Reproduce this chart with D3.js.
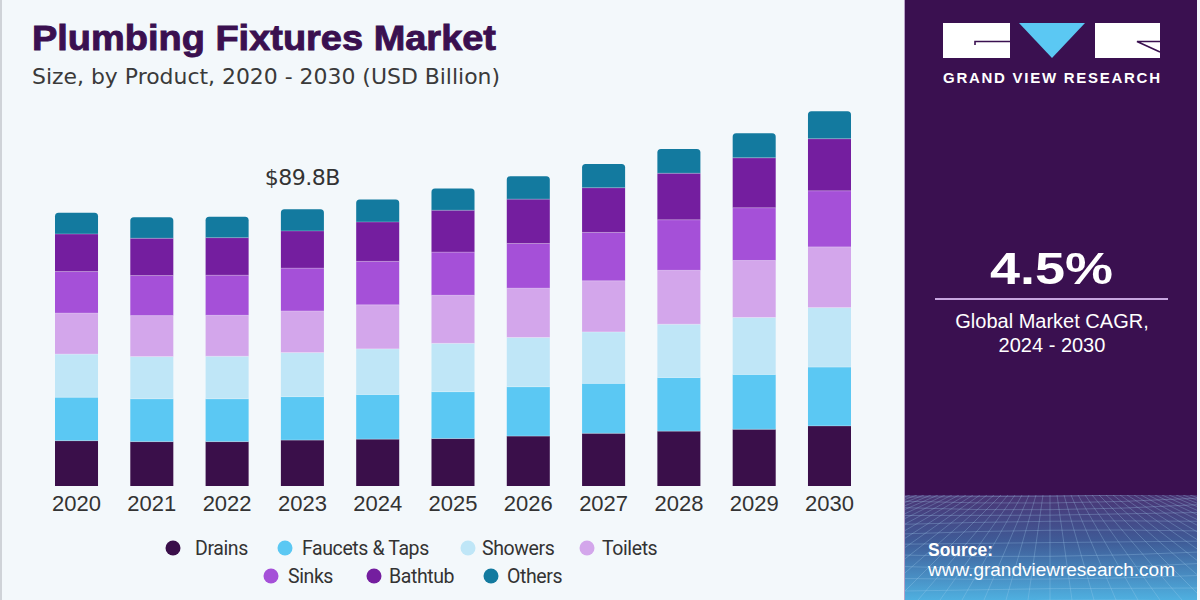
<!DOCTYPE html>
<html>
<head>
<meta charset="utf-8">
<script src="https://cdn.jsdelivr.net/npm/d3@7"></script>
<style>
  html, body { margin: 0; padding: 0; background: #f3f8fb; }
  svg { display: block; }
</style>
</head>
<body>
<svg id="chart" width="1200" height="600"></svg>
<script>
// ---------- DATA ----------
const years = ["2020","2021","2022","2023","2024","2025","2026","2027","2028","2029","2030"];
const seriesNames = ["Drains","Faucets & Taps","Showers","Toilets","Sinks","Bathtub","Others"];
const drains   = [14.7, 14.4, 14.4, 14.9, 15.2, 15.4, 16.2, 17.1, 17.8, 18.4, 19.5];
const faucets  = [14.1, 13.9, 13.9, 14.1, 14.5, 15.2, 16.0, 16.2, 17.4, 17.8, 19.1];
const showers  = [14.0, 13.7, 13.8, 14.3, 14.8, 15.7, 16.0, 16.7, 17.3, 18.5, 19.3];
const toilets  = [13.3, 13.3, 13.3, 13.5, 14.3, 15.6, 16.0, 16.6, 17.5, 18.5, 19.7];
const sinks    = [13.5, 13.0, 13.0, 13.9, 14.1, 14.0, 14.5, 15.7, 16.4, 17.1, 18.2];
const bathtub  = [12.2, 12.1, 12.2, 12.1, 12.8, 13.6, 14.4, 14.5, 15.1, 16.2, 16.9];
const others   = [6.9, 6.8, 6.8, 7.0, 7.3, 7.1, 7.4, 7.7, 7.9, 8.0, 8.9];
const annotationYear = "2023";
const annotationText = "$89.8B";
const cagrValue = "4.5%";
const cagrLabel1 = "Global Market CAGR,";
const cagrLabel2 = "2024 - 2030";

const colors = ["#3a0f4a", "#5bc8f3", "#bfe6f7", "#d3a6eb", "#a550d8", "#741e9f", "#137a9f"];

// ---------- BUILD ----------
const seriesArrays = [drains, faucets, showers, toilets, sinks, bathtub, others];
const table = years.map((y, i) => {
  const row = { year: y };
  seriesNames.forEach((s, k) => row[s] = seriesArrays[k][i]);
  return row;
});
const stacked = d3.stack().keys(seriesNames)(table);

const svg = d3.select("#chart");
const FONT = "'Liberation Sans', Arial, sans-serif";
const WIDE = "'DejaVu Sans', Verdana, sans-serif";

// background
svg.append("rect").attr("x", 0).attr("y", 0).attr("width", 1200).attr("height", 600).attr("fill", "#f3f8fb");
svg.append("rect").attr("x", 0).attr("y", 0).attr("width", 2).attr("height", 600).attr("fill", "#cfd3d8");

// scales
const x = d3.scaleBand().domain(years).range([55, 851]).paddingInner(0.4286).paddingOuter(0);
const y = d3.scaleLinear().domain([0, 130]).range([486, 486 - 130 * 3.081]);
const color = d3.scaleOrdinal().domain(seriesNames).range(colors);

// title
svg.append("text").attr("x", 32).attr("y", 50)
  .attr("font-family", FONT).attr("font-weight", 900).attr("font-size", 35)
  .attr("fill", "#3a1050").attr("stroke", "#3a1050").attr("stroke-width", 0.9)
  .attr("textLength", 464).attr("lengthAdjust", "spacingAndGlyphs")
  .text("Plumbing Fixtures Market");
svg.append("text").attr("x", 32).attr("y", 84)
  .attr("font-family", WIDE).attr("font-size", 20.5).attr("fill", "#3a3a3a")
  .attr("textLength", 468).attr("lengthAdjust", "spacingAndGlyphs")
  .text("Size, by Product, 2020 - 2030 (USD Billion)");

// bars
const g = svg.append("g");
const topIdx = seriesNames.length - 1;
function roundedTop(x0, y0, w, h, r) {
  return `M${x0},${y0 + h} L${x0},${y0 + r} Q${x0},${y0} ${x0 + r},${y0} L${x0 + w - r},${y0} Q${x0 + w},${y0} ${x0 + w},${y0 + r} L${x0 + w},${y0 + h} Z`;
}
stacked.forEach((layer, li) => {
  const lg = g.append("g").attr("fill", color(layer.key));
  if (li === topIdx) {
    lg.selectAll("path").data(layer).join("path")
      .attr("d", d => roundedTop(x(d.data.year), y(d[1]), x.bandwidth(), y(d[0]) - y(d[1]), 3.5));
  } else {
    lg.selectAll("rect").data(layer).join("rect")
      .attr("x", d => x(d.data.year))
      .attr("y", d => y(d[1]))
      .attr("width", x.bandwidth())
      .attr("height", d => y(d[0]) - y(d[1]));
  }
});
// thin separators between segments
stacked.slice(0, topIdx).forEach(layer => {
  g.append("g").selectAll("line").data(layer).join("line")
    .attr("x1", d => x(d.data.year)).attr("x2", d => x(d.data.year) + x.bandwidth())
    .attr("y1", d => y(d[1])).attr("y2", d => y(d[1]))
    .attr("stroke", "#ffffff").attr("stroke-opacity", 0.35).attr("stroke-width", 0.8);
});

// x axis labels
const xAxis = d3.axisBottom(x).tickSize(0).tickPadding(0);
const ax = svg.append("g").attr("transform", "translate(0,492)").call(xAxis);
ax.select(".domain").remove();
ax.selectAll("text").attr("font-family", FONT).attr("font-size", 22).attr("fill", "#333")
  .attr("dy", "0").attr("y", 19);

// annotation
const annTotal = d3.sum(seriesArrays, a => a[years.indexOf(annotationYear)]);
svg.append("text")
  .attr("x", x(annotationYear) + x.bandwidth() / 2)
  .attr("y", y(annTotal) - 24)
  .attr("text-anchor", "middle")
  .attr("font-family", WIDE).attr("font-size", 22).attr("fill", "#333")
  .attr("letter-spacing", -0.5)
  .text(annotationText);

// legend
const legendPos = [
  { cx: 173, cy: 548, tx: 195 },
  { cx: 285, cy: 548, tx: 302 },
  { cx: 468, cy: 548, tx: 482 },
  { cx: 587, cy: 548, tx: 602 },
  { cx: 271, cy: 576, tx: 288 },
  { cx: 374, cy: 576, tx: 389 },
  { cx: 491, cy: 576, tx: 507 }
];
const lgd = svg.append("g");
seriesNames.forEach((s, i) => {
  const p = legendPos[i];
  lgd.append("circle").attr("cx", p.cx).attr("cy", p.cy).attr("r", 7.5).attr("fill", color(s));
  lgd.append("text").attr("x", p.tx).attr("y", p.cy + 7)
    .attr("font-family", "Roboto, sans-serif").attr("font-size", 19.5).attr("fill", "#333")
    .attr("letter-spacing", -0.4)
    .text(s);
});

// ---------- RIGHT PANEL ----------
const defs = svg.append("defs");
const grad = defs.append("linearGradient").attr("id", "btm").attr("x1", 0).attr("y1", 0).attr("x2", 0).attr("y2", 1);
grad.append("stop").attr("offset", "0%").attr("stop-color", "#4a3474");
grad.append("stop").attr("offset", "45%").attr("stop-color", "#3f5c98");
grad.append("stop").attr("offset", "100%").attr("stop-color", "#4fb0e0");
const clip = defs.append("clipPath").attr("id", "meshclip");
clip.append("rect").attr("x", 905).attr("y", 495).attr("width", 292).attr("height", 105);

svg.append("rect").attr("x", 904).attr("y", 0).attr("width", 1.5).attr("height", 600).attr("fill", "#b9a3c9");
svg.append("rect").attr("x", 905).attr("y", 0).attr("width", 292).attr("height", 600).attr("fill", "#3a1050");
svg.append("rect").attr("x", 905).attr("y", 495).attr("width", 292).attr("height", 105).attr("fill", "url(#btm)");

// mesh decoration
const mesh = svg.append("g").attr("clip-path", "url(#meshclip)")
  .attr("stroke", "#a9d4f2").attr("stroke-opacity", 0.35).attr("stroke-width", 0.8).attr("fill", "none");
d3.range(0, 14).forEach(k => {
  const yy = 497 + Math.pow(k, 1.35) * 4.2;
  mesh.append("path").attr("d", `M905,${yy} Q1050,${yy + 6 * Math.sin(k)} 1197,${yy - 3}`);
});
d3.range(-20, 21).forEach(k => {
  mesh.append("line").attr("x1", 1050 + k * 7).attr("y1", 495).attr("x2", 1050 + k * 22).attr("y2", 600);
});

// logo
const logo = svg.append("g");
logo.append("rect").attr("x", 943).attr("y", 23).attr("width", 67).attr("height", 35).attr("fill", "#ffffff");
logo.append("path").attr("d", "M975,45 L975,41.5 L1010,41.5").attr("stroke", "#3a1050").attr("stroke-width", 1.6).attr("fill", "none");
logo.append("path").attr("d", "M1019,23 L1085,23 L1052,58 Z").attr("fill", "#5bc8f3");
logo.append("rect").attr("x", 1095).attr("y", 23).attr("width", 65).attr("height", 35).attr("fill", "#ffffff");
logo.append("path").attr("d", "M1160,41.5 L1137,41.5 L1160,52").attr("stroke", "#3a1050").attr("stroke-width", 1.6).attr("fill", "none");
logo.append("text").attr("x", 943).attr("y", 83)
  .attr("font-family", FONT).attr("font-weight", 700).attr("font-size", 15)
  .attr("textLength", 217).attr("lengthAdjust", "spacing").attr("fill", "#ffffff")
  .text("GRAND VIEW RESEARCH");

// CAGR
svg.append("text").attr("x", 990).attr("y", 284)
  .attr("font-family", FONT).attr("font-weight", 700).attr("font-size", 45).attr("fill", "#ffffff")
  .attr("textLength", 123).attr("lengthAdjust", "spacingAndGlyphs")
  .text(cagrValue);
svg.append("line").attr("x1", 935).attr("x2", 1168).attr("y1", 299).attr("y2", 299)
  .attr("stroke", "#c7a6df").attr("stroke-width", 2);
svg.append("text").attr("x", 1052).attr("y", 328).attr("text-anchor", "middle")
  .attr("font-family", FONT).attr("font-size", 20).attr("fill", "#ffffff")
  .text(cagrLabel1);
svg.append("text").attr("x", 1052).attr("y", 352).attr("text-anchor", "middle")
  .attr("font-family", FONT).attr("font-size", 20).attr("fill", "#ffffff")
  .text(cagrLabel2);

// source
svg.append("text").attr("x", 928).attr("y", 556)
  .attr("font-family", FONT).attr("font-weight", 700).attr("font-size", 17.5).attr("fill", "#ffffff")
  .text("Source:");
svg.append("text").attr("x", 928).attr("y", 576)
  .attr("font-family", FONT).attr("font-size", 18).attr("fill", "#ffffff")
  .attr("textLength", 247).attr("lengthAdjust", "spacingAndGlyphs")
  .text("www.grandviewresearch.com");
</script>
</body>
</html>
